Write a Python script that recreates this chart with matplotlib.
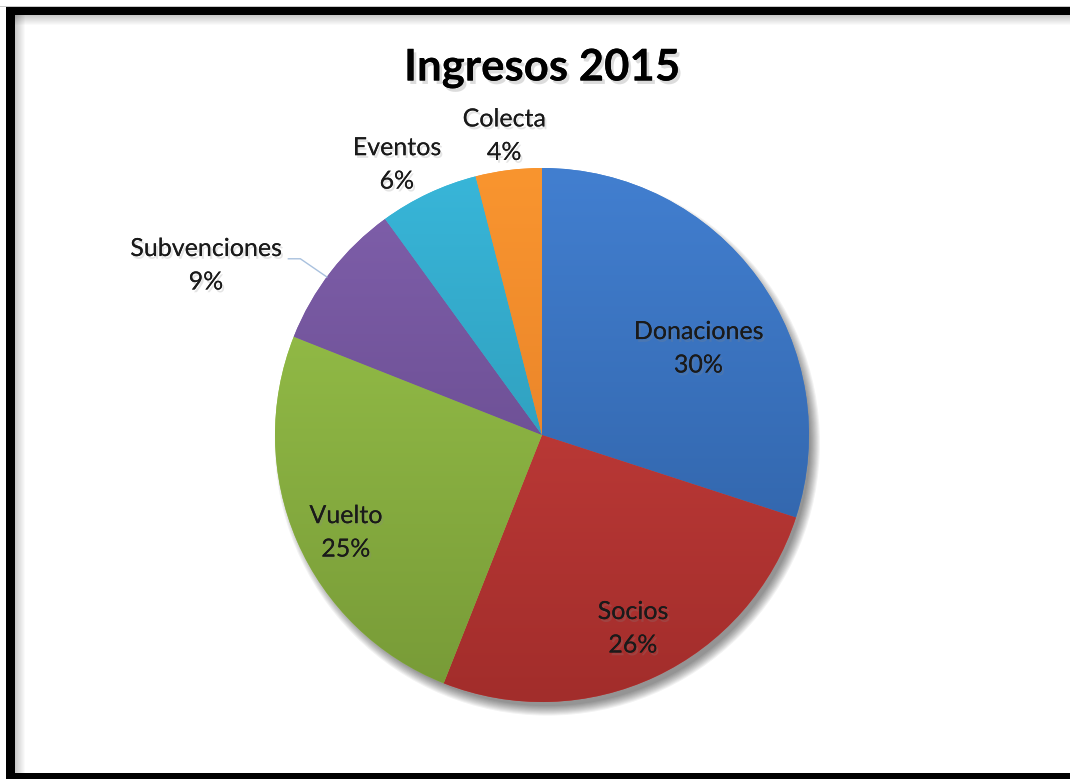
import numpy as np
import matplotlib
matplotlib.use('Agg')
import matplotlib.pyplot as plt
import matplotlib.patheffects as pe
from matplotlib.patches import Rectangle, Circle
from matplotlib.colors import to_rgb

# data
categorias = ['Donaciones', 'Socios', 'Vuelto', 'Subvenciones', 'Eventos', 'Colecta']
porcentajes = [30, 26, 25, 9, 6, 4]
color_arriba = ['#427fd0', '#d04340', '#9cc74c', '#8060ac', '#38b6d9', '#f9952f']
color_abajo = ['#2c5c9e', '#a22d2b', '#779a37', '#5e4382', '#2a8da8', '#de7826']

# label layout: (radius factor, angle tweak in degrees)
pos_etiquetas = [(0.67, -7), (0.80, 0), (0.82, 3), (1.41, 11), (1.15, 3), (1.13, 0)]

W, H = 1070, 779
fig = plt.figure(figsize=(W / 100, H / 100), dpi=100)
fig.patch.set_facecolor('white')

fuente = 'Lato'
sombra = [pe.withSimplePatchShadow(offset=(1.5, -2), shadow_rgbFace='#888888', alpha=0.22), pe.Normal()]

# frame like a screenshot border
def px_rect(x0, y0, x1, y1, **kw):
    # top-left origin pixel coords
    r = Rectangle((x0 / W, 1 - y1 / H), (x1 - x0) / W, (y1 - y0) / H,
                  transform=fig.transFigure, linewidth=0, **kw)
    fig.patches.append(r)

px_rect(0, 6, W, 7, facecolor='#c8c8c8')
for i in range(10):
    a = 0.35 * (1 - i / 10)
    px_rect(15, 15 + i, W, 16 + i, facecolor='k', alpha=a * 0.6)
    px_rect(15 + i, 15, 16 + i, 773, facecolor='k', alpha=a * 0.6)
px_rect(6, 7, W, 15, facecolor='black')
px_rect(6, 7, 15, H, facecolor='black')
px_rect(6, 773, W, H, facecolor='black')

# pie axes
cx, cy, rad = 542, 435, 267
ax = fig.add_axes([(cx - rad) / W, 1 - (cy + rad) / H, 2 * rad / W, 2 * rad / H])
ax.set_xlim(-1, 1)
ax.set_ylim(-1, 1)
ax.axis('off')

# soft shadow under the pie, falling to the lower right
for i in range(10):
    ax.add_patch(Circle((0.02, -0.03), 0.985 + 0.004 * i, facecolor='k',
                        alpha=0.05, linewidth=0, zorder=0, clip_on=False))

wedges, _ = ax.pie(porcentajes, startangle=90, counterclock=False,
                   colors=color_arriba, radius=1.0,
                   wedgeprops=dict(linewidth=0, zorder=2))
ax.set_xlim(-1, 1)
ax.set_ylim(-1, 1)

t = np.linspace(0, 1, 256)[:, None]
for w, c1, c2 in zip(wedges, color_arriba, color_abajo):
    c1 = np.array(to_rgb(c1))
    c2 = np.array(to_rgb(c2))
    grad = c1[None, None, :] * (1 - t[..., None]) + c2[None, None, :] * t[..., None]
    grad = np.repeat(grad, 2, axis=1)
    im = ax.imshow(grad, extent=[-1, 1, -1, 1], origin='upper', aspect='auto',
                   zorder=3, interpolation='bilinear')
    im.set_clip_path(w)

# labels
for w, nom, p, (rf, dang) in zip(wedges, categorias, porcentajes, pos_etiquetas):
    mid = np.deg2rad((w.theta1 + w.theta2) / 2 + dang)
    x, y = rf * np.cos(mid), rf * np.sin(mid)
    ax.text(x, y, f'{nom}\n{p}%', ha='center', va='center', fontsize=18,
            family=fuente, color='#1a1a1a', linespacing=1.55, zorder=5,
            path_effects=sombra, clip_on=False)

# leader line for Subvenciones
w = wedges[3]
mid = np.deg2rad((w.theta1 + w.theta2) / 2 + 1.5)
ex, ey = np.cos(mid), np.sin(mid)
ax.plot([-0.95, -0.905, ex], [0.66, 0.66, ey], color='#a9c1de', lw=1,
        zorder=4, clip_on=False)

fig.text(cx / W, 1 - 68 / H, 'Ingresos 2015', ha='center', va='center',
         fontsize=31.5, fontweight='bold', family=fuente, color='black',
         path_effects=[pe.withSimplePatchShadow(offset=(2, -2.5), shadow_rgbFace='#777777', alpha=0.25), pe.Normal()])

fig.savefig('out.png', dpi=100)
